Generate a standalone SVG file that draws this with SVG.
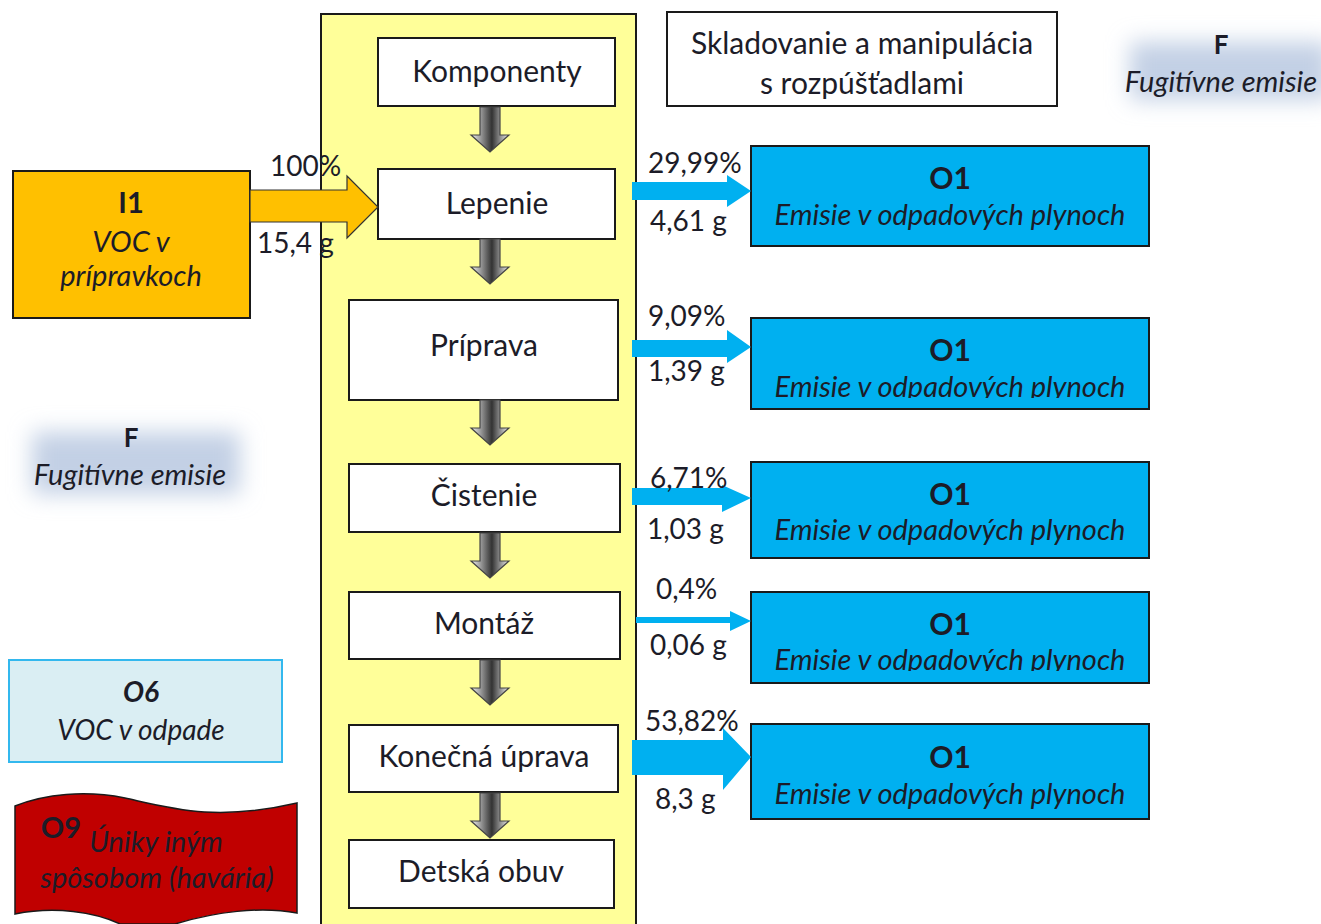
<svg xmlns="http://www.w3.org/2000/svg" width="1321" height="924" viewBox="0 0 1321 924">
  <defs>
    <style>
      text { font-family: "Lato", "Open Sans", "Liberation Sans", sans-serif; fill: #1c1c28; text-anchor: middle; }
      .step { fill: #ffffff; stroke: #1a1a1a; stroke-width: 2; }
      .stepText { font-size: 30px; }
      .o1 { fill: #00b0f0; stroke: #1a1a1a; stroke-width: 2; }
      .o1Title { font-size: 30px; font-weight: bold; }
      .o1Sub { font-size: 29px; font-style: italic; }
      .val { font-size: 28px; text-anchor: start; }
      .flow { fill: #00b0f0; }
      .down { fill: url(#gradDown); stroke: #444; stroke-width: 1.2; }
      .fugTitle { font-size: 26px; font-weight: bold; }
      .fugSub { font-size: 29px; font-style: italic; }
      .haze { fill: #c3d0e5; }
    </style>
    <linearGradient id="gradDown" x1="0" y1="0" x2="1" y2="0">
      <stop offset="0" stop-color="#f4f4f4"/>
      <stop offset="0.55" stop-color="#333"/>
      <stop offset="1" stop-color="#f0f0f0"/>
    </linearGradient>
    <filter id="haze" x="-30%" y="-60%" width="160%" height="220%">
      <feGaussianBlur stdDeviation="11"/>
    </filter>
    <clipPath id="clip2"><rect x="751" y="318" width="398" height="80"/></clipPath>
    <clipPath id="clip4"><rect x="751" y="592" width="398" height="79"/></clipPath>
    <path id="downArrow" d="M-10,0 H10 V28 H19 L0,45 L-19,28 H-10 Z"/>
  </defs>

  <rect width="1321" height="924" fill="#ffffff"/>

  <!-- process column background -->
  <rect id="process-panel" x="321" y="14" width="315" height="920" fill="#ffff99" stroke="#1a1a1a" stroke-width="2"/>

  <!-- fugitive emission areas -->
  <g id="fugitive-top">
    <rect class="haze" x="1130" y="42" width="200" height="58" filter="url(#haze)"/>
    <text class="fugTitle" x="1221" y="54">F</text>
    <text class="fugSub" x="1221" y="92">Fugitívne emisie</text>
  </g>
  <g id="fugitive-left">
    <rect class="haze" x="32" y="432" width="208" height="62" filter="url(#haze)"/>
    <text class="fugTitle" x="131" y="447">F</text>
    <text class="fugSub" x="130" y="485">Fugitívne emisie</text>
  </g>

  <!-- storage note -->
  <g id="storage">
    <rect x="667" y="12" width="390" height="94" fill="#fff" stroke="#1a1a1a" stroke-width="2"/>
    <text x="862" y="54" font-size="30">Skladovanie a manipulácia</text>
    <text x="862" y="94" font-size="30">s rozpúšťadlami</text>
  </g>

  <!-- input I1 -->
  <g id="input-i1">
    <rect x="13" y="171" width="237" height="147" fill="#ffc000" stroke="#1a1a1a" stroke-width="2"/>
    <text x="131" y="213" font-size="29" font-weight="bold">I1</text>
    <text x="131" y="252" font-size="29" font-style="italic">VOC v</text>
    <text x="131" y="286" font-size="29" font-style="italic">prípravkoch</text>
  </g>

  <!-- process steps -->
  <g id="step-komponenty"><rect class="step" x="378" y="38" width="237" height="68"/><text class="stepText" x="497" y="82">Komponenty</text></g>
  <g id="step-lepenie"><rect class="step" x="378" y="169" width="237" height="70"/><text class="stepText" x="497" y="214">Lepenie</text></g>
  <g id="step-priprava"><rect class="step" x="349" y="300" width="269" height="100"/><text class="stepText" x="484" y="356">Príprava</text></g>
  <g id="step-cistenie"><rect class="step" x="349" y="464" width="271" height="68"/><text class="stepText" x="484" y="506">Čistenie</text></g>
  <g id="step-montaz"><rect class="step" x="349" y="592" width="271" height="67"/><text class="stepText" x="484" y="634">Montáž</text></g>
  <g id="step-konecna"><rect class="step" x="349" y="725" width="269" height="67"/><text class="stepText" x="484" y="767">Konečná úprava</text></g>
  <g id="step-detska"><rect class="step" x="349" y="840" width="265" height="68"/><text class="stepText" x="481" y="882">Detská obuv</text></g>

  <!-- outputs O1 -->
  <g id="o1-lepenie"><rect class="o1" x="751" y="146" width="398" height="100"/><text class="o1Title" x="950" y="189">O1</text><text class="o1Sub" x="950" y="225">Emisie v odpadových plynoch</text></g>
  <g id="o1-priprava"><rect class="o1" x="751" y="318" width="398" height="91"/><text class="o1Title" x="950" y="361">O1</text><text class="o1Sub" x="950" y="397" clip-path="url(#clip2)">Emisie v odpadových plynoch</text></g>
  <g id="o1-cistenie"><rect class="o1" x="751" y="462" width="398" height="96"/><text class="o1Title" x="950" y="505">O1</text><text class="o1Sub" x="950" y="540">Emisie v odpadových plynoch</text></g>
  <g id="o1-montaz"><rect class="o1" x="751" y="592" width="398" height="91"/><text class="o1Title" x="950" y="635">O1</text><text class="o1Sub" x="950" y="670" clip-path="url(#clip4)">Emisie v odpadových plynoch</text></g>
  <g id="o1-konecna"><rect class="o1" x="751" y="724" width="398" height="95"/><text class="o1Title" x="950" y="768">O1</text><text class="o1Sub" x="950" y="804">Emisie v odpadových plynoch</text></g>

  <!-- waste O6 -->
  <g id="waste-o6">
    <rect x="9" y="660" width="273" height="102" fill="#daeef3" stroke="#33b8ee" stroke-width="2"/>
    <text x="141" y="702" font-size="28" font-weight="bold" font-style="italic">O6</text>
    <text x="141" y="740" font-size="28" font-style="italic">VOC v odpade</text>
  </g>

  <!-- accidental leaks O9 -->
  <g id="leak-o9">
    <path d="M15,806 C45,794 85,790 125,798 C170,808 215,822 297,803 L297,913 C260,906 215,912 175,924 L120,924 C95,912 55,906 15,914 Z" fill="#c00000" stroke="#1a1a1a" stroke-width="1.5"/>
    <text x="61" y="838" font-size="29" font-weight="bold" fill="#111">O9</text>
    <text x="156" y="852" font-size="29" font-style="italic" fill="#3a0000">Úniky iným</text>
    <text x="157" y="888" font-size="29" font-style="italic" fill="#3a0000">spôsobom (havária)</text>
  </g>

  <!-- connectors -->
  <g id="connectors">
    <!-- flow between steps -->
    <use href="#downArrow" class="down" x="490" y="107"/>
    <use href="#downArrow" class="down" x="490" y="239"/>
    <use href="#downArrow" class="down" x="490" y="400"/>
    <use href="#downArrow" class="down" x="490" y="533"/>
    <use href="#downArrow" class="down" x="490" y="660"/>
    <use href="#downArrow" class="down" x="490" y="793"/>

    <!-- input flow -->
    <path d="M250,190 H347 V176 L378,207 L347,238 V222 H250 Z" fill="#ffc000" stroke="#333" stroke-width="1.2"/>

    <!-- emission flows -->
    <path class="flow" d="M632,182 H727 V175 L751,191 L727,207 V200 H632 Z"/>
    <path class="flow" d="M632,340 H727 V330 L751,347 L727,363 V357 H632 Z"/>
    <path class="flow" d="M632,488 H722 V485 L751,498 L722,512 V505 H632 Z"/>
    <path class="flow" d="M636,617 H730 V611 L751,621 L730,631 V623 H636 Z"/>
    <path class="flow" d="M632,740 H723 V728 L751,757 L723,790 V775 H632 Z"/>
  </g>

  <!-- flow values -->
  <g id="values">
    <text class="val" x="270" y="176">100%</text>
    <text class="val" x="257" y="253">15,4 g</text>
    <text class="val" x="648" y="173">29,99%</text>
    <text class="val" x="650" y="231">4,61 g</text>
    <text class="val" x="648" y="326">9,09%</text>
    <text class="val" x="648" y="381">1,39 g</text>
    <text class="val" x="650" y="488">6,71%</text>
    <text class="val" x="647" y="539">1,03 g</text>
    <text class="val" x="656" y="599">0,4%</text>
    <text class="val" x="650" y="655">0,06 g</text>
    <text class="val" x="645" y="731">53,82%</text>
    <text class="val" x="655" y="809">8,3 g</text>
  </g>
</svg>
